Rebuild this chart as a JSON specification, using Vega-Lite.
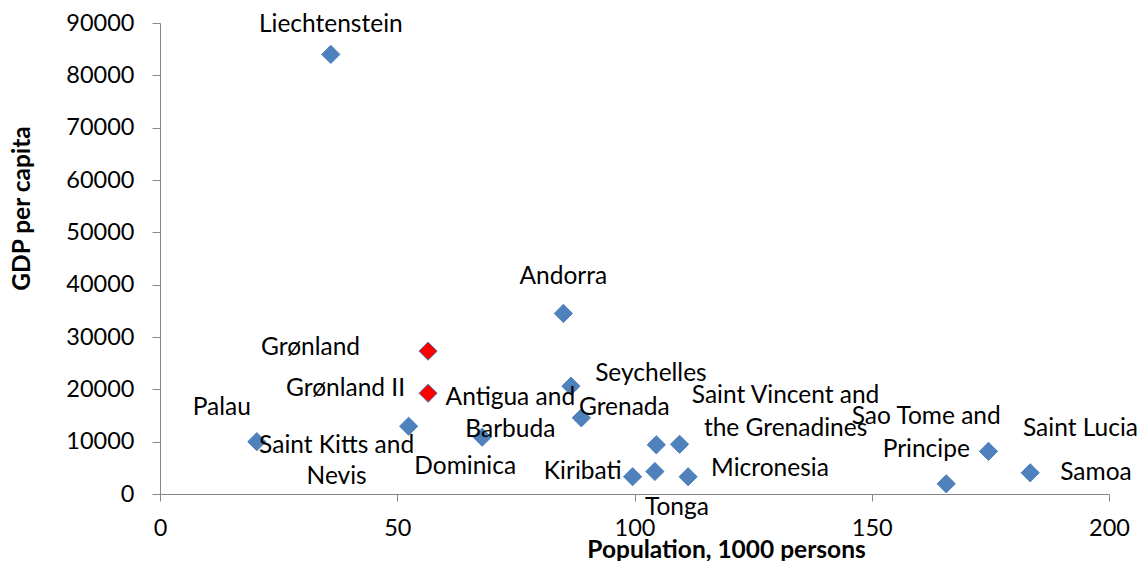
{
  "$schema": "https://vega.github.io/schema/vega-lite/v6.json",
  "width": 949,
  "height": 471,
  "autosize": {"type": "none"},
  "padding": {"left": 160, "top": 23, "right": 32, "bottom": 67},
  "background": "white",
  "config": {
    "view": {"stroke": null},
    "font": "Lato",
    "text": {"font": "Lato", "fontSize": 24.5, "color": "#000000", "baseline": "middle", "align": "center"}
  },
  "data": {
    "values": [
      {"country": "Liechtenstein", "label": "Liechtenstein", "population": 36.0, "gdp": 84000, "series": "Small states"},
      {"country": "Andorra", "label": "Andorra", "population": 85.0, "gdp": 34500, "series": "Small states"},
      {"country": "Grønland", "label": "Grønland", "population": 56.5, "gdp": 27300, "series": "Grønland"},
      {"country": "Grønland II", "label": "Grønland II", "population": 56.5, "gdp": 19250, "series": "Grønland"},
      {"country": "Seychelles", "label": "Seychelles", "population": 86.6, "gdp": 20600, "series": "Small states"},
      {"country": "Antigua and Barbuda", "label": "Antigua and\nBarbuda", "population": 88.8, "gdp": 14550, "series": "Small states"},
      {"country": "Saint Kitts and Nevis", "label": "Saint Kitts and\nNevis", "population": 52.4, "gdp": 12950, "series": "Small states"},
      {"country": "Dominica", "label": "Dominica", "population": 67.9, "gdp": 10850, "series": "Small states"},
      {"country": "Palau", "label": "Palau", "population": 20.4, "gdp": 10000, "series": "Small states"},
      {"country": "Grenada", "label": "Grenada", "population": 104.6, "gdp": 9400, "series": "Small states"},
      {"country": "Saint Vincent and the Grenadines", "label": "Saint Vincent and\nthe Grenadines", "population": 109.5, "gdp": 9500, "series": "Small states"},
      {"country": "Kiribati", "label": "Kiribati", "population": 99.6, "gdp": 3300, "series": "Small states"},
      {"country": "Tonga", "label": "Tonga", "population": 104.3, "gdp": 4300, "series": "Small states"},
      {"country": "Micronesia", "label": "Micronesia", "population": 111.3, "gdp": 3300, "series": "Small states"},
      {"country": "Sao Tome and Principe", "label": "Sao Tome and\nPrincipe", "population": 165.7, "gdp": 1950, "series": "Small states"},
      {"country": "Saint Lucia", "label": "Saint Lucia", "population": 174.6, "gdp": 8150, "series": "Small states"},
      {"country": "Samoa", "label": "Samoa", "population": 183.4, "gdp": 4050, "series": "Small states"}
    ]
  },
  "encoding": {
    "x": {
      "field": "population", "type": "quantitative",
      "scale": {"domain": [0, 200], "nice": false, "zero": true},
      "axis": {
        "title": "Population, 1000 persons",
        "values": [0, 50, 100, 150, 200],
        "grid": false,
        "domainColor": "#868686", "tickColor": "#868686", "tickSize": 7,
        "labelFont": "Lato", "labelFontSize": 23.5, "labelColor": "#000000", "labelPadding": 15,
        "labelFlush": false,
        "titleFont": "Lato", "titleFontSize": 24.5, "titleFontWeight": "bold", "titleColor": "#000000",
        "titleX": 566, "titleY": 56, "titleAlign": "center", "titleBaseline": "middle"
      }
    },
    "y": {
      "field": "gdp", "type": "quantitative",
      "scale": {"domain": [0, 90000], "nice": false},
      "axis": {
        "title": "GDP per capita",
        "values": [0, 10000, 20000, 30000, 40000, 50000, 60000, 70000, 80000, 90000],
        "format": "d",
        "grid": false,
        "domainColor": "#868686", "tickColor": "#868686", "tickSize": 8,
        "labelFont": "Lato", "labelFontSize": 23.5, "labelColor": "#000000", "labelPadding": 18,
        "labelFlush": false,
        "titleFont": "Lato", "titleFontSize": 24.5, "titleFontWeight": "bold", "titleColor": "#000000",
        "titleAngle": -90, "titleX": -138, "titleY": 185, "titleAlign": "center", "titleBaseline": "middle"
      }
    }
  },
  "layer": [
    {
      "mark": {"type": "point", "shape": "diamond", "filled": true, "size": 330, "stroke": "#4A7EBB", "strokeWidth": 1, "opacity": 1},
      "encoding": {
        "color": {
          "field": "series", "type": "nominal",
          "scale": {"domain": ["Small states", "Grønland"], "range": ["#4F81BD", "#FF0000"]},
          "legend": null
        }
      }
    },
    {"transform": [{"filter": "datum.country === 'Liechtenstein'"}], "mark": {"type": "text", "dy": -29}, "encoding": {"text": {"field": "label"}}},
    {"transform": [{"filter": "datum.country === 'Andorra'"}], "mark": {"type": "text", "dy": -36}, "encoding": {"text": {"field": "label"}}},
    {"transform": [{"filter": "datum.country === 'Grønland'"}], "mark": {"type": "text", "align": "right", "dx": -68, "dy": -3}, "encoding": {"text": {"field": "label"}}},
    {"transform": [{"filter": "datum.country === 'Grønland II'"}], "mark": {"type": "text", "align": "right", "dx": -23, "dy": -4}, "encoding": {"text": {"field": "label"}}},
    {"transform": [{"filter": "datum.country === 'Palau'"}], "mark": {"type": "text", "dx": -35, "dy": -34}, "encoding": {"text": {"field": "label"}}},
    {"transform": [{"filter": "datum.country === 'Saint Kitts and Nevis'"}], "mark": {"type": "text", "dx": -72, "dy": 20, "lineBreak": "\n", "lineHeight": 31}, "encoding": {"text": {"field": "label"}}},
    {"transform": [{"filter": "datum.country === 'Dominica'"}], "mark": {"type": "text", "dx": -17, "dy": 30}, "encoding": {"text": {"field": "label"}}},
    {"transform": [{"filter": "datum.country === 'Antigua and Barbuda'"}], "mark": {"type": "text", "dx": -71, "dy": -20, "lineBreak": "\n", "lineHeight": 32}, "encoding": {"text": {"field": "label"}}},
    {"transform": [{"filter": "datum.country === 'Seychelles'"}], "mark": {"type": "text", "dx": 80, "dy": -12}, "encoding": {"text": {"field": "label"}}},
    {"transform": [{"filter": "datum.country === 'Grenada'"}], "mark": {"type": "text", "dx": -32, "dy": -37}, "encoding": {"text": {"field": "label"}}},
    {"transform": [{"filter": "datum.country === 'Saint Vincent and the Grenadines'"}], "mark": {"type": "text", "dx": 106, "dy": -48, "lineBreak": "\n", "lineHeight": 33}, "encoding": {"text": {"field": "label"}}},
    {"transform": [{"filter": "datum.country === 'Kiribati'"}], "mark": {"type": "text", "align": "right", "dx": -11, "dy": -5}, "encoding": {"text": {"field": "label"}}},
    {"transform": [{"filter": "datum.country === 'Tonga'"}], "mark": {"type": "text", "dx": 22, "dy": 37}, "encoding": {"text": {"field": "label"}}},
    {"transform": [{"filter": "datum.country === 'Micronesia'"}], "mark": {"type": "text", "align": "left", "dx": 23, "dy": -8}, "encoding": {"text": {"field": "label"}}},
    {"transform": [{"filter": "datum.country === 'Sao Tome and Principe'"}], "mark": {"type": "text", "dx": -20, "dy": -67, "lineBreak": "\n", "lineHeight": 33}, "encoding": {"text": {"field": "label"}}},
    {"transform": [{"filter": "datum.country === 'Saint Lucia'"}], "mark": {"type": "text", "dx": 92, "dy": -22}, "encoding": {"text": {"field": "label"}}},
    {"transform": [{"filter": "datum.country === 'Samoa'"}], "mark": {"type": "text", "align": "left", "dx": 30, "dy": 0}, "encoding": {"text": {"field": "label"}}}
  ]
}
